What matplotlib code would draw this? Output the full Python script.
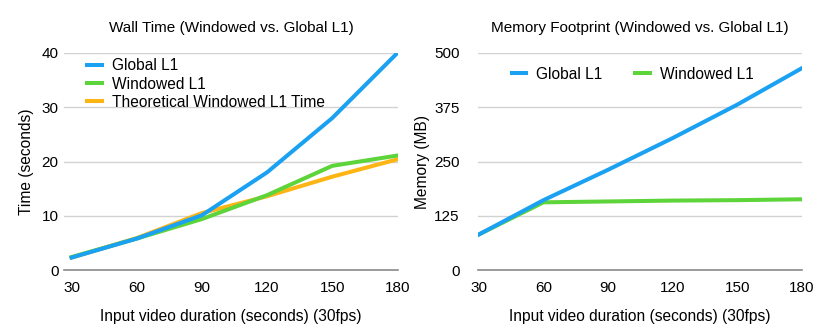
import numpy as np
import matplotlib.pyplot as plt

plt.rcParams['font.family'] = ['Liberation Sans', 'DejaVu Sans']

# datos
duracion = [30, 60, 90, 120, 150, 180]

tiempo_global = [2.3, 5.8, 10.1, 18.0, 28.0, 40.0]
tiempo_ventana = [2.4, 5.8, 9.4, 13.8, 19.2, 21.1]
tiempo_teorico = [2.3, 5.9, 10.5, 13.6, 17.2, 20.4]

mem_global = [82, 161, 231, 304, 381, 465]
mem_ventana = [82, 156, 158, 160, 161, 163]

azul = '#1ba1f2'
verde = '#5ed43b'
naranja = '#fdb515'

fig = plt.figure(figsize=(8.31, 3.33), dpi=100)

def estilo(ax, ticks_y, pad_y):
    for s in ['left', 'right', 'top']:
        ax.spines[s].set_visible(False)
    ax.spines['bottom'].set_color('#8a8a8a')
    ax.spines['bottom'].set_linewidth(1.2)
    ax.set_yticks(ticks_y)
    ax.set_xticks(duracion)
    ax.set_ylim(ticks_y[0], ticks_y[-1])
    ax.grid(axis='y', color='#d2d2d2', linewidth=1)
    ax.set_axisbelow(True)
    ax.tick_params(axis='y', length=0, pad=pad_y, labelsize=11)
    ax.tick_params(axis='x', length=0, pad=8, labelsize=11)
    ax.set_xlabel('Input video duration (seconds) (30fps)', fontsize=11.2, labelpad=10)

ax1 = fig.add_axes([0.077, 0.189, 0.402, 0.652])
ax1.plot(duracion, tiempo_teorico, color=naranja, lw=2.9, label='Theoretical Windowed L1 Time', zorder=3)
ax1.plot(duracion, tiempo_ventana, color=verde, lw=2.9, label='Windowed L1', zorder=4)
ax1.plot(duracion, tiempo_global, color=azul, lw=2.9, label='Global L1', zorder=5)
ax1.set_xlim(26.5, 180.3)
estilo(ax1, [0, 10, 20, 30, 40], 4)
ax1.set_ylabel('Time (seconds)', fontsize=11.2, labelpad=5)
ax1.set_title('Wall Time (Windowed vs. Global L1)', fontsize=11, pad=15)
h, l = ax1.get_legend_handles_labels()
ax1.legend(h[::-1], l[::-1], loc='upper left', bbox_to_anchor=(0.05, 1.005), frameon=False,
           fontsize=11.2, handlelength=1.0, handletextpad=0.6, labelspacing=0.22, borderaxespad=0)

ax2 = fig.add_axes([0.575, 0.189, 0.390, 0.652])
ax2.plot(duracion, mem_ventana, color=verde, lw=2.9, label='Windowed L1', zorder=4)
ax2.plot(duracion, mem_global, color=azul, lw=2.9, label='Global L1', zorder=5)
ax2.set_xlim(29.5, 180)
estilo(ax2, [0, 125, 250, 375, 500], 13)
ax2.set_ylabel('Memory (MB)', fontsize=11.2, labelpad=3)
ax2.set_title('Memory Footprint (Windowed vs. Global L1)', fontsize=11, pad=15)
h, l = ax2.get_legend_handles_labels()
ax2.legend(h[::-1], l[::-1], loc='upper left', bbox_to_anchor=(0.085, 0.965), frameon=False, ncol=2,
           fontsize=11.2, handlelength=0.95, handletextpad=0.65, columnspacing=2.1, borderaxespad=0)

fig.savefig('out.png', dpi=100)
